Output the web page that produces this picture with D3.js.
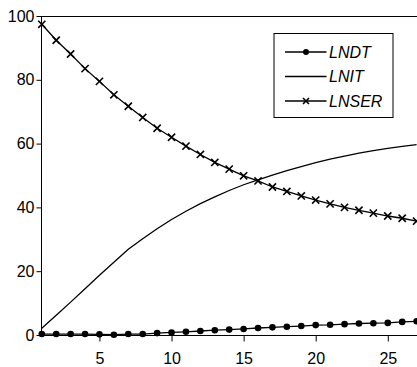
<!DOCTYPE html>
<html>
<head>
<meta charset="utf-8">
<script src="https://cdn.jsdelivr.net/npm/d3@7"></script>
<style>
  html, body { margin: 0; padding: 0; background: #fff; }
  svg { display: block; font-family: "Liberation Sans", Arial, sans-serif; }
</style>
</head>
<body>
<svg id="chart" width="417" height="367"></svg>
<script>
// values, x = 1..27
const periods = d3.range(1, 28);
const lndt = [0.3, 0.3, 0.3, 0.3, 0.2, 0.1, 0.3, 0.3, 0.6, 0.8, 1.0, 1.25, 1.5, 1.7,
  1.9, 2.2, 2.4, 2.6, 2.8, 3.1, 3.2, 3.4, 3.6, 3.7, 3.8, 4.1, 4.3];
const lnit = [2.1, 6.2, 10.3, 14.5, 18.7, 22.8, 26.9, 30.2, 33.3, 36.2, 38.8, 41.2, 43.3,
  45.3, 47.1, 48.6, 50.1, 51.5, 52.8, 54.0, 55.1, 56.1, 57.0, 57.8, 58.5, 59.1, 59.7];
const lnser = [97.4, 92.4, 88.1, 83.5, 79.5, 75.3, 71.7, 68.2, 64.8, 62.0, 59.2, 56.6, 54.1,
  52.0, 49.9, 48.3, 46.4, 45.0, 43.6, 42.3, 41.1, 40.0, 39.1, 38.2, 37.3, 36.6, 35.7];
const xTicks = [5, 10, 15, 20, 25];
const yTicks = [0, 20, 40, 60, 80, 100];
const seriesNames = ['LNDT', 'LNIT', 'LNSER'];

const svg = d3.select('#chart');
const x = d3.scaleLinear().domain([1, 27]).range([41.8, 416.6]);
const y = d3.scaleLinear().domain([0, 100]).range([335, 16]);

// frame: top line and baseline
svg.append('line').attr('x1', 41.5).attr('x2', 417).attr('y1', 16.5).attr('y2', 16.5)
  .attr('stroke', '#000');

const xAxis = svg.append('g')
  .attr('transform', 'translate(0,335.5)')
  .call(d3.axisBottom(x).tickValues(xTicks).tickSize(6).tickPadding(11).tickFormat(d3.format('d')));
xAxis.select('.domain').attr('d', 'M41.5,0H417');

const yAxis = svg.append('g')
  .attr('transform', 'translate(41.5,0)')
  .call(d3.axisLeft(y).tickValues(yTicks).tickSize(5).tickPadding(2).tickFormat(d3.format('d')));
yAxis.select('.domain').attr('d', 'M0,16H0V336');

svg.selectAll('.tick text').attr('font-size', 16).attr('fill', '#000')
  .attr('font-family', '"Liberation Sans", Arial, sans-serif');
xAxis.selectAll('.tick text').attr('dy', '0.71em');
svg.selectAll('.tick line, .domain').attr('stroke', '#000');

const plot = svg.append('g');
const line = d3.line().x((d, i) => x(periods[i])).y(d => y(d));

[lndt, lnit, lnser].forEach(s => {
  plot.append('path').datum(s).attr('d', line)
    .attr('fill', 'none').attr('stroke', '#000').attr('stroke-width', 1.3);
});

plot.selectAll('circle.dt').data(lndt).join('circle')
  .attr('class', 'dt')
  .attr('cx', (d, i) => x(periods[i])).attr('cy', d => y(d))
  .attr('r', 3.3).attr('fill', '#000');

const cross = (sel, s) => sel
  .attr('d', `M${-s},${-s}L${s},${s}M${-s},${s}L${s},${-s}`)
  .attr('stroke', '#000').attr('stroke-width', 1.6).attr('fill', 'none');

plot.selectAll('path.ser').data(lnser).join('path')
  .attr('class', 'ser')
  .attr('transform', (d, i) => `translate(${x(periods[i])},${y(d)})`)
  .call(cross, 3.6);

// legend
const legend = svg.append('g');
legend.append('rect').attr('x', 274).attr('y', 33.5).attr('width', 119).attr('height', 84)
  .attr('fill', '#fff').attr('stroke', '#000');
const rowY = [52, 76.5, 101];
seriesNames.forEach((name, i) => {
  const g = legend.append('g').attr('transform', `translate(0,${rowY[i]})`);
  g.append('line').attr('x1', 285).attr('x2', 326.5).attr('stroke', '#000').attr('stroke-width', 1.3);
  if (i === 0) g.append('circle').attr('cx', 306).attr('r', 3).attr('fill', '#000');
  if (i === 2) g.append('path').attr('transform', 'translate(306,0)').call(cross, 3);
  g.append('text').attr('x', 329).attr('dy', '0.36em')
    .attr('font-size', 16).attr('font-style', 'italic').attr('fill', '#000').text(name);
});
</script>
</body>
</html>
